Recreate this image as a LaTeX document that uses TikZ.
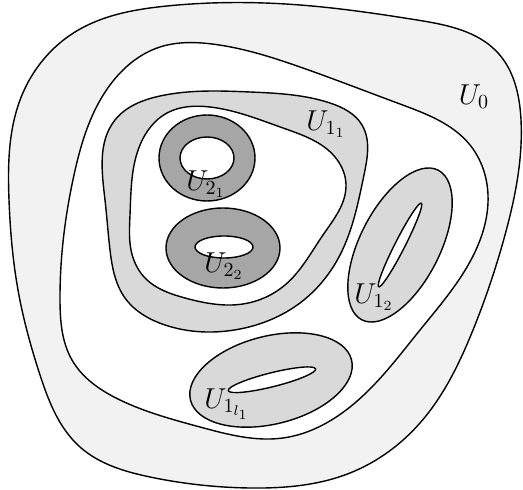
\documentclass[tikz,border=0pt]{standalone}
\usetikzlibrary{hobby}

\begin{document}
\begin{tikzpicture}[
		x=0.5pt, y=-0.5pt,
		line join=round,
		use Hobby shortcut,
		outer/.style={draw=black, line width=0.7pt, fill=black!5},
		hole/.style={draw=black, line width=0.7pt, fill=white},
		ring/.style={draw=black, line width=0.7pt, fill=black!15, even odd rule},
		darkring/.style={draw=black, line width=0.7pt, fill=black!35, even odd rule},
		lbl/.style={inner sep=0pt, font=\Large}
		]
		
		%% ── Frame ───────────────────────────────────────────────────────────
		\useasboundingbox (0,0) rectangle (523,490);
		
		%% ── U_0 and its hole ────────────────────────────────────────────────
		\draw[outer, closed=true] (9,200) .. (22,95) .. (75,32) .. (167,6)
			.. (300,5) .. (417,20) .. (498,53) .. (521,120) .. (505,235)
			.. (473,330) .. (420,423) .. (350,473) .. (250,488) .. (150,477)
			.. (80,447) .. (40,375) .. (18,290);
		\draw[hole, closed=true] (60,300) .. (74,175) .. (110,85) .. (160,47)
			.. (212,44) .. (300,67) .. (400,104) .. (470,145) .. (488,195)
			.. (467,267) .. (420,330) .. (350,407) .. (283,438) .. (200,427)
			.. (120,400) .. (72,360);
		
		%% ── U_{1_1} ─────────────────────────────────────────────────────────
		\draw[outer, fill=black!15, closed=true] (105,200) .. (115,120)
			.. (160,96) .. (250,92) .. (330,103) .. (362,125) .. (364,175)
			.. (340,255) .. (300,303) .. (240,329) .. (165,325) .. (125,298)
			.. (110,250);
		\draw[hole, closed=true] (130,215) .. (140,145) .. (167,113)
			.. (210,107) .. (283,128) .. (335,157) .. (346,185) .. (323,235)
			.. (285,285) .. (243,304) .. (185,298) .. (145,278) .. (131,250);
		
		%% ── U_{2_1}, U_{2_2} ────────────────────────────────────────────────
		\draw[darkring] (207,158) ellipse [x radius=48, y radius=43]
			(207,158) ellipse [x radius=27, y radius=21];
		\draw[darkring] (223,248) ellipse [x radius=57, y radius=40]
			(224,247) ellipse [x radius=29, y radius=11];
		
		%% ── U_{1_2}, U_{1_{l_1}} ────────────────────────────────────────────
		\draw[ring, rotate around={63:(400,245)}]
			(400,245) ellipse [x radius=84, y radius=40]
			(400,245) ellipse [x radius=47, y radius=5];
		\draw[ring, rotate around={14:(271,380)}]
			(271,380) ellipse [x radius=83, y radius=44]
			(272,380) ellipse [x radius=45, y radius=7];
		
		%% ── Labels ──────────────────────────────────────────────────────────
		\node[lbl] (u0)  at (474,97)  {$U_0$};
		\node[lbl] (u11) at (326,124) {$U_{1_1}$};
		\node[lbl] (u21) at (206,184) {$U_{2_1}$};
		\node[lbl] (u22) at (224,266) {$U_{2_2}$};
		\node[lbl] (u12) at (374,297) {$U_{1_2}$};
		\node[lbl] (u1l) at (227,404) {$U_{1_{l_1}}$};
		
	\end{tikzpicture}
\end{document}
